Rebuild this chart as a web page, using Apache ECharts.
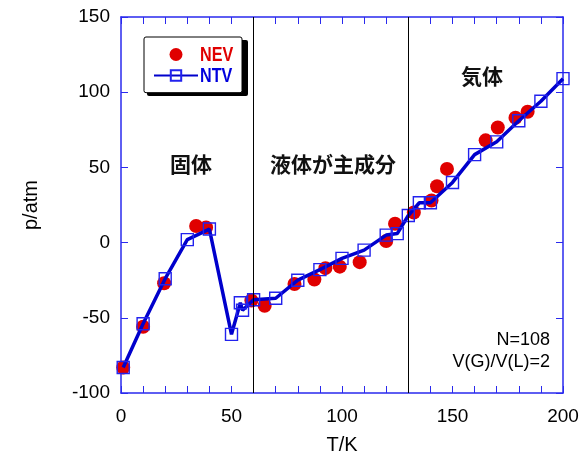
<!DOCTYPE html>
<html><head><meta charset="utf-8">
<script src="https://cdn.jsdelivr.net/npm/echarts@6/dist/echarts.min.js"></script>
<style>html,body{margin:0;padding:0;background:#fff;overflow:hidden}#c{width:587px;height:455px}</style>
</head><body><div id="c"></div>
<script>
// NEV (red circles)
var nevT = [1, 10, 19.5, 34, 38.5, 59, 65, 78.5, 87.5, 92.5, 99, 108, 120, 124, 132.5, 140.5, 143, 147.5, 165, 170.5, 178.5, 184];
var nevP = [-83, -56, -27, 11, 10, -38.5, -42, -27.5, -24.5, -17, -16, -13, 1, 12.5, 20, 28, 37.5, 49, 68, 76.5, 83, 87];
// NTV (blue line with squares)
var ntvT = [1, 10, 20, 30, 40, 50, 54, 55, 60, 70, 80, 90, 100, 110, 120, 125, 130, 135, 140, 150, 160, 170, 180, 190, 200];
var ntvP = [-83, -54, -24, 2, 9, -61, -40, -45, -38, -37, -25, -18, -10.5, -5, 5, 6, 18, 26.5, 26.5, 40, 58.5, 67, 81, 94, 109];
// phase boundaries
var boundaries = [60, 130];
var xTicks = [0, 50, 100, 150, 200];
var yTicks = [-100, -50, 0, 50, 100, 150];
var seriesNames = ['NEV', 'NTV'];

var axisColor = '#2a2aee';
var labelFont = {fontFamily: 'Liberation Sans, Arial, sans-serif', fontSize: 19, color: '#000'};

function zip(a, b) { return a.map(function (v, i) { return [v, b[i]]; }); }

var chart = echarts.init(document.getElementById('c'), null, {renderer: 'canvas'});
function baseX(pos, showLabel) {
  return {
    type: 'value', position: pos, min: xTicks[0], max: xTicks[xTicks.length - 1], interval: 50,
    axisLine: {show: true, onZero: false, lineStyle: {color: axisColor, width: 1.5}},
    axisTick: {show: true, inside: true, length: 7, lineStyle: {color: axisColor, width: 1}},
    minorTick: {show: true, splitNumber: 5, length: 7, lineStyle: {color: axisColor, width: 1}},
    splitLine: {show: false},
    axisLabel: Object.assign({show: showLabel, margin: 14}, labelFont),
    name: showLabel ? 'T/K' : '', nameLocation: 'middle', nameGap: 42,
    nameTextStyle: {fontFamily: 'Liberation Sans, Arial, sans-serif', fontSize: 20, color: '#000'}
  };
}
function baseY(pos, showLabel) {
  return {
    type: 'value', position: pos, min: yTicks[0], max: yTicks[yTicks.length - 1], interval: 50,
    axisLine: {show: true, onZero: false, lineStyle: {color: axisColor, width: 1.5}},
    axisTick: {show: true, inside: true, length: 7, lineStyle: {color: axisColor, width: 1}},
    splitLine: {show: false},
    axisLabel: Object.assign({show: showLabel, margin: 11}, labelFont),
    name: showLabel ? 'p/atm' : '', nameLocation: 'middle', nameRotate: 90, nameGap: 80,
    nameTextStyle: {fontFamily: 'Liberation Sans, Arial, sans-serif', fontSize: 20, color: '#000'}
  };
}

var legendFont = 'bold 21px "Liberation Sans", Arial, sans-serif';
var option = {
  animation: false,
  backgroundColor: '#fff',
  grid: {left: 121, right: 24, top: 17, bottom: 62, containLabel: false, outerBoundsMode: 'none'},
  xAxis: [baseX('bottom', true), baseX('top', false)],
  yAxis: [baseY('left', true), baseY('right', false)],
  legend: {
    orient: 'vertical', left: 144, top: 37, z: 10,
    itemWidth: 44, itemHeight: 13, itemGap: 8,
    padding: [11, 43, 11, 9],
    backgroundColor: '#fff', borderColor: '#000', borderWidth: 1, borderRadius: 2,
    formatter: function () { return ''; },
    textStyle: {fontSize: 13},
    data: seriesNames
  },
  graphic: [
    {type: 'rect', left: 147, top: 40, z: 5, shape: {width: 101, height: 56, r: 2}, style: {fill: '#000'}},
    {type: 'text', x: 200, y: 45, z: 20, scaleX: 0.77, style: {text: seriesNames[0], font: legendFont, fill: '#e00000'}},
    {type: 'text', x: 200, y: 66, z: 20, scaleX: 0.77, style: {text: seriesNames[1], font: legendFont, fill: '#0000dd'}},
    {type: 'text', left: 170, top: 154, style: {text: '固体', font: 'bold 21px "Noto Sans CJK JP"', fill: '#111'}},
    {type: 'text', left: 270, top: 154, style: {text: '液体が主成分', font: 'bold 21px "Noto Sans CJK JP"', fill: '#111'}},
    {type: 'text', left: 461, top: 66, style: {text: '気体', font: 'bold 21px "Noto Sans CJK JP"', fill: '#111'}},
    {type: 'text', right: 37, top: 331, style: {text: 'N=108', font: '18px "Liberation Sans", Arial, sans-serif', fill: '#000', textAlign: 'right'}},
    {type: 'text', right: 37, top: 353, style: {text: 'V(G)/V(L)=2', font: '18px "Liberation Sans", Arial, sans-serif', fill: '#000', textAlign: 'right'}}
  ],
  series: [
    {
      name: seriesNames[0], type: 'scatter', data: zip(nevT, nevP), symbol: 'circle', symbolSize: 14,
      itemStyle: {color: '#e00000', opacity: 1}, z: 2,
      markLine: {
        silent: true, symbol: ['none', 'none'], label: {show: false},
        lineStyle: {color: '#000', width: 1, type: 'solid'},
        data: boundaries.map(function (b) { return {xAxis: b}; })
      }
    },
    {
      name: seriesNames[1], type: 'line', data: zip(ntvT, ntvP), symbol: 'rect', symbolSize: 12,
      showAllSymbol: true,
      lineStyle: {color: '#0000cc', width: 3.5},
      itemStyle: {color: 'rgba(255,255,255,0)', borderColor: '#2222ee', borderWidth: 1.4},
      z: 3
    }
  ]
};
chart.setOption(option);
</script></body></html>
